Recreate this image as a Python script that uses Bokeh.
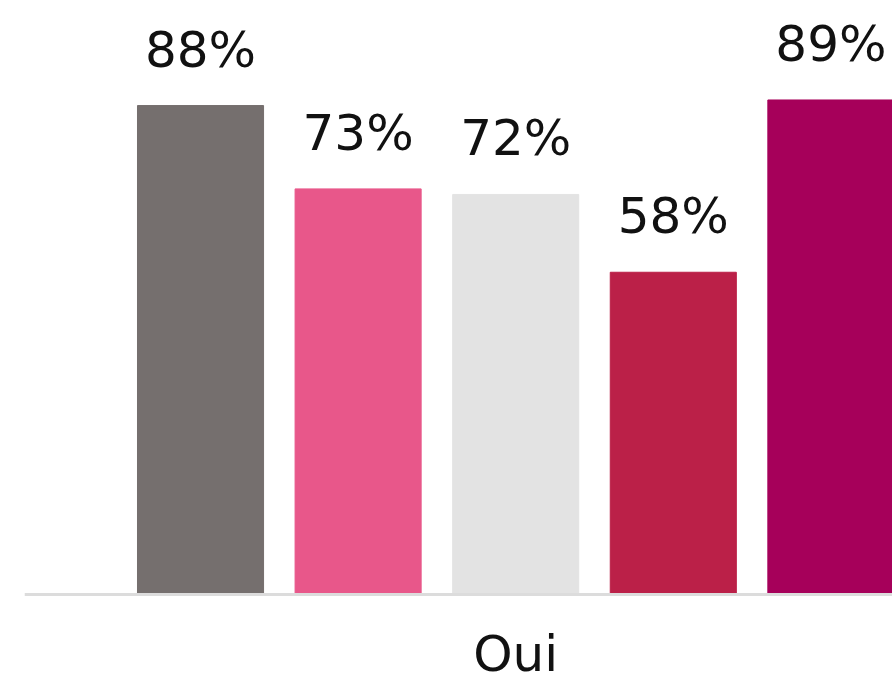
from bokeh.plotting import figure
from bokeh.models import ColumnDataSource, Range1d, Span
from bokeh.embed import file_html
from bokeh.resources import INLINE
from bokeh.core.properties import value

# Data
group_label = "Oui"
series = ["Série 1", "Série 2", "Série 3", "Série 4", "Série 5"]
values = [88, 73, 72, 58, 89]
colors = ["#756f6e", "#e8578a", "#e3e3e3", "#bb2048", "#a6005a"]
labels = [f"{v}%" for v in values]
positions = list(range(len(series)))
group_center = sum(positions) / len(positions)

src = ColumnDataSource(dict(x=positions, top=values, color=colors, label=labels, name=series))
gsrc = ColumnDataSource(dict(x=[group_center], y=[0], label=[group_label]))

p = figure(width=892, height=683, output_backend="svg", toolbar_location=None,
           x_range=Range1d(-1.117, 4.391), y_range=Range1d(-16.0, 106.9),
           min_border_left=24, min_border_right=0, min_border_top=0, min_border_bottom=0)

p.vbar(x="x", top="top", bottom=0, width=0.8, color="color", source=src)

p.text(x="x", y="top", text="label", source=src, text_align="center",
       text_baseline="alphabetic", y_offset=-56, text_font=value("DejaVu Sans"),
       text_font_size="50px", text_color="#111111")

p.text(x="x", y="y", text="label", source=gsrc, text_align="center",
       text_baseline="alphabetic", y_offset=59, text_font=value("DejaVu Sans"),
       text_font_size="50px", text_color="#111111")

p.add_layout(Span(location=0, dimension="width", line_color="#dcdcdc", line_width=3))

p.axis.visible = False
p.xgrid.visible = False
p.ygrid.visible = False
p.outline_line_color = None

open("out.html", "w").write(file_html(p, INLINE))
